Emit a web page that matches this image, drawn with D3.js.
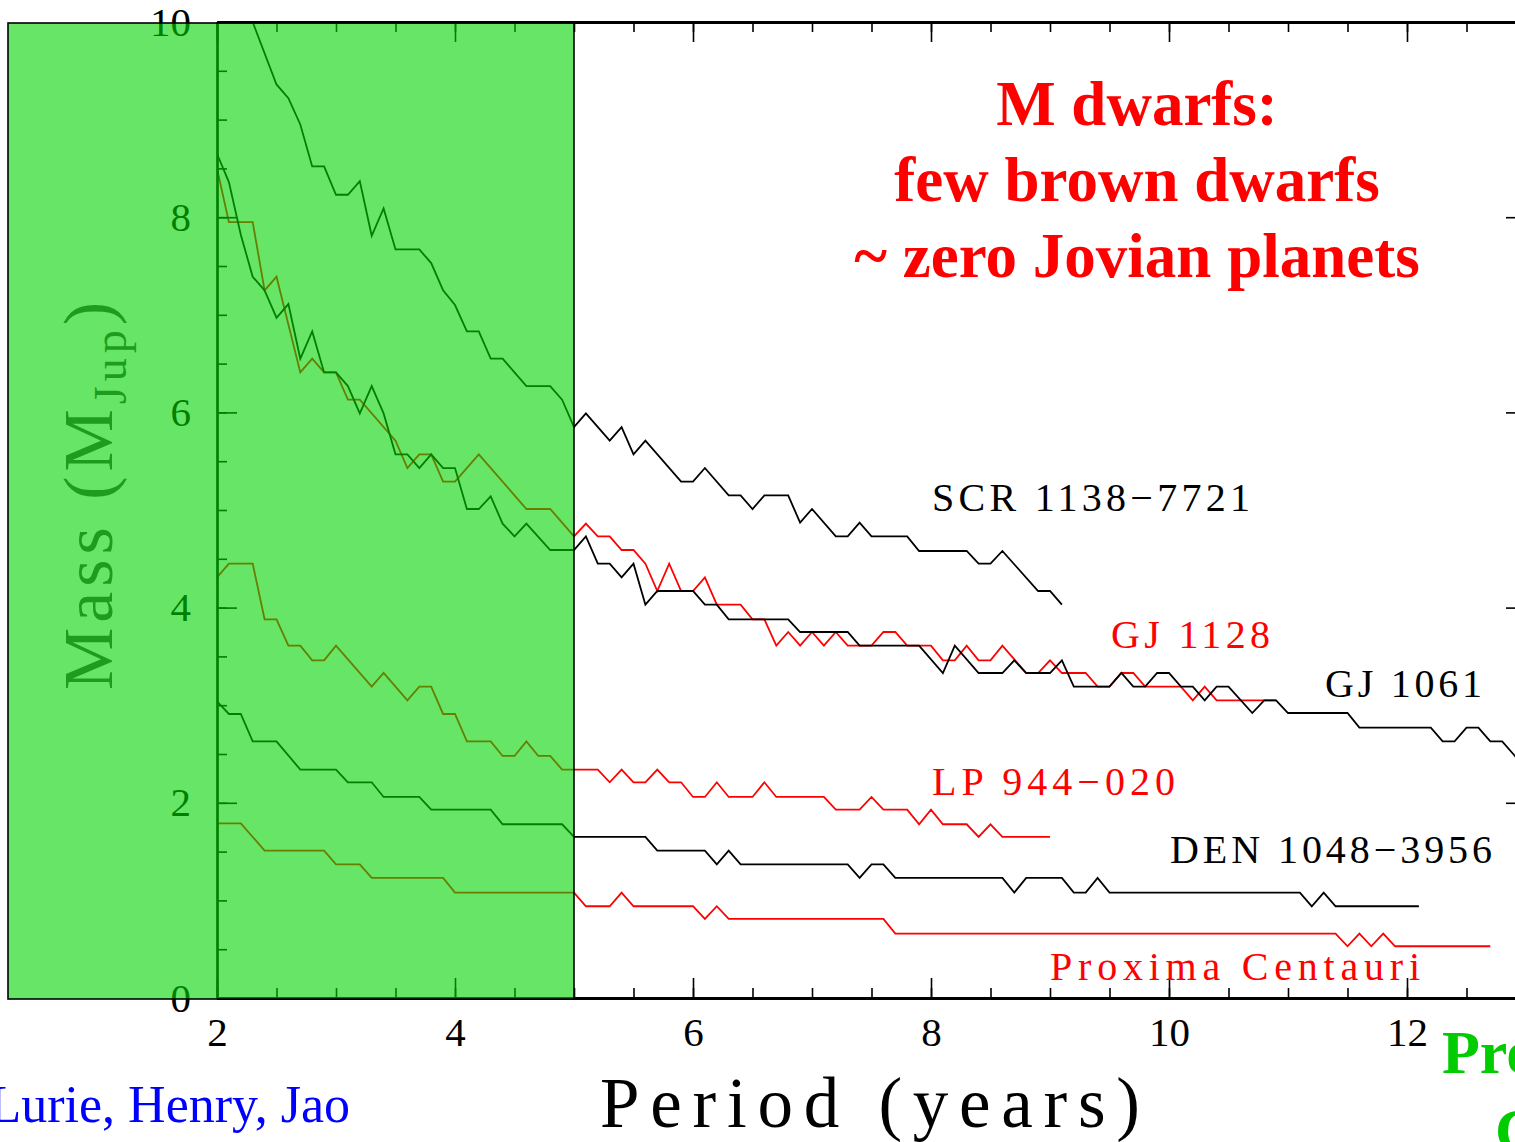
<!DOCTYPE html>
<html>
<head>
<meta charset="utf-8">
<script src="https://cdn.jsdelivr.net/npm/d3@7"></script>
<style>
  html, body { margin: 0; padding: 0; background: #fff; overflow: hidden; }
  svg { display: block; }
  text { font-family: "Liberation Serif", "Times New Roman", serif; }
</style>
</head>
<body>
<svg id="chart" width="1515" height="1142"></svg>
<script>
// Axis domains and tick values
const periodDomain = [2, 13];
const massDomain = [0, 10];
const periodMajorTicks = [2, 4, 6, 8, 10, 12];
const periodMinorTicks = d3.range(2, 13.01, 0.5);
const massMajorTicks = [0, 2, 4, 6, 8, 10];
const massMinorTicks = d3.range(0, 10.01, 0.5);

// Series names, colours and label texts
const seriesNames = ["SCR 1138−7721", "GJ 1128", "GJ 1061", "LP 944−020", "DEN 1048−3956", "Proxima Centauri"];
const seriesColors = ["#000000", "#ff0000", "#000000", "#ff0000", "#000000", "#ff0000"];

// Detection limits: [period (years), mass (M_Jup)]
const scr1138 = [[2.3,10.0],[2.5,9.36],[2.6,9.22],[2.7,8.95],[2.8,8.52],[2.9,8.52],[3.0,8.23],[3.1,8.23],[3.2,8.37],[3.3,7.81],[3.4,8.09],[3.5,7.67],[3.7,7.67],[3.8,7.53],[3.9,7.25],[4.0,7.10],[4.1,6.83],[4.2,6.83],[4.3,6.55],[4.4,6.55],[4.6,6.27],[4.8,6.27],[4.9,6.13],[5.0,5.85],[5.1,5.99],[5.3,5.71],[5.4,5.85],[5.5,5.57],[5.6,5.71],[5.9,5.29],[6.0,5.29],[6.1,5.43],[6.3,5.15],[6.4,5.15],[6.5,5.01],[6.6,5.15],[6.8,5.15],[6.9,4.87],[7.0,5.01],[7.2,4.73],[7.3,4.73],[7.4,4.87],[7.5,4.73],[7.8,4.73],[7.9,4.58],[8.3,4.58],[8.4,4.45],[8.5,4.45],[8.6,4.58],[8.9,4.17],[9.0,4.17],[9.1,4.03]];

const gj1128 = [[2.0,8.50],[2.1,7.95],[2.3,7.95],[2.4,7.25],[2.5,7.39],[2.7,6.41],[2.8,6.55],[2.9,6.41],[3.0,6.41],[3.1,6.13],[3.2,6.13],[3.5,5.71],[3.6,5.43],[3.7,5.57],[3.8,5.57],[3.9,5.29],[4.0,5.29],[4.2,5.57],[4.6,5.01],[4.8,5.01],[5.0,4.73],[5.1,4.86],[5.2,4.73],[5.3,4.73],[5.4,4.59],[5.5,4.59],[5.6,4.45],[5.7,4.17],[5.8,4.45],[5.9,4.17],[6.0,4.17],[6.1,4.31],[6.2,4.03],[6.4,4.03],[6.5,3.88],[6.6,3.88],[6.7,3.61],[6.8,3.75],[6.9,3.61],[7.0,3.75],[7.1,3.61],[7.2,3.75],[7.3,3.61],[7.5,3.61],[7.6,3.75],[7.7,3.75],[7.8,3.61],[8.0,3.61],[8.1,3.46],[8.2,3.46],[8.3,3.61],[8.4,3.46],[8.5,3.46],[8.6,3.61],[8.8,3.33],[8.9,3.33],[9.0,3.46],[9.1,3.33],[9.3,3.33],[9.4,3.19],[9.5,3.19],[9.6,3.33],[9.7,3.33],[9.8,3.19],[10.1,3.19],[10.2,3.05],[10.3,3.19],[10.4,3.05],[10.9,3.05]];

const gj1061 = [[2.0,8.65],[2.1,8.36],[2.2,7.82],[2.3,7.39],[2.4,7.25],[2.5,6.97],[2.6,7.11],[2.7,6.55],[2.8,6.83],[2.9,6.41],[3.0,6.41],[3.1,6.27],[3.2,5.99],[3.3,6.27],[3.4,5.99],[3.5,5.57],[3.6,5.57],[3.7,5.43],[3.8,5.57],[3.9,5.43],[4.0,5.43],[4.1,5.01],[4.2,5.01],[4.3,5.14],[4.4,4.86],[4.5,4.73],[4.6,4.86],[4.8,4.59],[5.0,4.59],[5.1,4.73],[5.2,4.45],[5.3,4.45],[5.4,4.31],[5.5,4.45],[5.6,4.03],[5.7,4.17],[6.0,4.17],[6.1,4.03],[6.2,4.03],[6.3,3.88],[6.8,3.88],[6.9,3.75],[7.3,3.75],[7.4,3.61],[7.9,3.61],[8.1,3.33],[8.2,3.61],[8.4,3.33],[8.6,3.33],[8.7,3.46],[8.8,3.33],[9.0,3.33],[9.1,3.46],[9.2,3.19],[9.5,3.19],[9.6,3.33],[9.7,3.19],[9.8,3.19],[9.9,3.33],[10.0,3.33],[10.1,3.19],[10.2,3.19],[10.3,3.05],[10.4,3.19],[10.5,3.19],[10.7,2.92],[10.8,3.05],[10.9,3.05],[11.0,2.92],[11.5,2.92],[11.6,2.77],[12.2,2.77],[12.3,2.63],[12.4,2.63],[12.5,2.77],[12.6,2.77],[12.7,2.63],[12.8,2.63],[12.9,2.49],[13.0,2.35]];

const lp944 = [[2.0,4.31],[2.1,4.45],[2.3,4.45],[2.4,3.88],[2.5,3.88],[2.6,3.61],[2.7,3.61],[2.8,3.46],[2.9,3.46],[3.0,3.61],[3.3,3.19],[3.4,3.33],[3.6,3.05],[3.7,3.19],[3.8,3.19],[3.9,2.91],[4.0,2.91],[4.1,2.63],[4.3,2.63],[4.4,2.48],[4.5,2.48],[4.6,2.63],[4.7,2.48],[4.8,2.48],[4.9,2.34],[5.0,2.34],[5.2,2.34],[5.3,2.21],[5.4,2.34],[5.5,2.21],[5.6,2.21],[5.7,2.34],[5.8,2.21],[5.9,2.21],[6.0,2.06],[6.1,2.06],[6.2,2.21],[6.3,2.06],[6.5,2.06],[6.6,2.21],[6.7,2.06],[7.1,2.06],[7.2,1.93],[7.4,1.93],[7.5,2.06],[7.6,1.93],[7.8,1.93],[7.9,1.78],[8.0,1.93],[8.1,1.78],[8.3,1.78],[8.4,1.65],[8.5,1.78],[8.6,1.65],[9.0,1.65]];

const den1048 = [[2.0,3.04],[2.1,2.91],[2.2,2.91],[2.3,2.63],[2.5,2.63],[2.7,2.34],[3.0,2.34],[3.1,2.21],[3.3,2.21],[3.4,2.06],[3.7,2.06],[3.8,1.93],[4.3,1.93],[4.4,1.78],[4.9,1.78],[5.0,1.65],[5.6,1.65],[5.7,1.51],[6.1,1.51],[6.2,1.37],[6.3,1.51],[6.4,1.37],[7.3,1.37],[7.4,1.23],[7.5,1.37],[7.6,1.37],[7.7,1.23],[8.6,1.23],[8.7,1.08],[8.8,1.23],[9.1,1.23],[9.2,1.08],[9.3,1.08],[9.4,1.23],[9.5,1.08],[11.1,1.08],[11.2,0.94],[11.3,1.08],[11.4,0.94],[12.1,0.94]];

const proxima = [[2.0,1.79],[2.2,1.79],[2.4,1.51],[2.9,1.51],[3.0,1.37],[3.2,1.37],[3.3,1.23],[3.9,1.23],[4.0,1.08],[5.0,1.08],[5.1,0.94],[5.3,0.94],[5.4,1.08],[5.5,0.94],[6.0,0.94],[6.1,0.81],[6.2,0.94],[6.3,0.81],[7.6,0.81],[7.7,0.66],[11.4,0.66],[11.5,0.53],[11.6,0.66],[11.7,0.53],[11.8,0.66],[11.9,0.53],[12.7,0.53]];

const seriesData = [scr1138, gj1128, gj1061, lp944, den1048, proxima];

// Annotation texts
const titleLines = ["M dwarfs:", "few brown dwarfs", "~ zero Jovian planets"];
const creditText = "Lurie, Henry, Jao";
const sideNoteLines = ["Proxima", "Cen"];

// ---- layout ----
const svg = d3.select("#chart");
const plotLeft = 217, plotRight = 1526, plotTop = 22, plotBottom = 998;

const x = d3.scaleLinear().domain(periodDomain).range([plotLeft, plotRight]);
const y = d3.scaleLinear().domain(massDomain).range([plotBottom, plotTop]);

svg.append("defs").append("clipPath").attr("id", "plotClip")
  .append("rect").attr("x", plotLeft).attr("y", plotTop)
  .attr("width", plotRight - plotLeft).attr("height", plotBottom - plotTop);

// Detection-limit curves
const line = d3.line().x(d => x(d[0])).y(d => y(d[1]));
svg.append("g").attr("clip-path", "url(#plotClip)")
  .selectAll("path").data(seriesData).join("path")
  .attr("d", line)
  .attr("fill", "none")
  .attr("stroke", (d, i) => seriesColors[i])
  .attr("stroke-width", 1.8)
  .attr("stroke-linejoin", "miter");

// Axes: major and minor ticks on all four sides, pointing inward
function styleAxis(g, width) {
  g.selectAll(".domain").attr("stroke", "#000").attr("stroke-width", width);
  g.selectAll(".tick line").attr("stroke", "#000").attr("stroke-width", 1.6);
  g.selectAll("text").attr("fill", "#000")
    .style("font-family", '"Liberation Serif", serif').style("font-size", "41px");
}

// bottom
svg.append("g").attr("transform", `translate(0,${plotBottom})`)
  .call(d3.axisBottom(x).tickValues(periodMinorTicks).tickSize(-10).tickSizeOuter(0).tickFormat(""))
  .call(g => styleAxis(g, 3));
svg.append("g").attr("transform", `translate(0,${plotBottom})`)
  .call(d3.axisBottom(x).tickValues(periodMajorTicks).tickSize(-20).tickSizeOuter(0).tickPadding(19).tickFormat(d3.format("d")))
  .call(g => styleAxis(g, 3));
// top
svg.append("g").attr("transform", `translate(0,${plotTop})`)
  .call(d3.axisTop(x).tickValues(periodMinorTicks).tickSize(-10).tickSizeOuter(0).tickFormat(""))
  .call(g => styleAxis(g, 3));
svg.append("g").attr("transform", `translate(0,${plotTop})`)
  .call(d3.axisTop(x).tickValues(periodMajorTicks).tickSize(-20).tickSizeOuter(0).tickFormat(""))
  .call(g => styleAxis(g, 3));
// left
svg.append("g").attr("transform", `translate(${plotLeft},0)`)
  .call(d3.axisLeft(y).tickValues(massMinorTicks).tickSize(-10).tickSizeOuter(0).tickFormat(""))
  .call(g => styleAxis(g, 2.2));
svg.append("g").attr("transform", `translate(${plotLeft},0)`)
  .call(d3.axisLeft(y).tickValues(massMajorTicks).tickSize(-20).tickSizeOuter(0).tickPadding(26).tickFormat(d3.format("d")))
  .call(g => styleAxis(g, 2.2));
// right
svg.append("g").attr("transform", `translate(${plotRight},0)`)
  .call(d3.axisRight(y).tickValues(massMinorTicks).tickSize(-10).tickSizeOuter(0).tickFormat(""))
  .call(g => styleAxis(g, 3));
svg.append("g").attr("transform", `translate(${plotRight},0)`)
  .call(d3.axisRight(y).tickValues(massMajorTicks).tickSize(-20).tickSizeOuter(0).tickFormat(""))
  .call(g => styleAxis(g, 3));

// Axis titles
svg.append("text")
  .attr("x", 600).attr("y", 1127)
  .attr("textLength", 540).attr("lengthAdjust", "spacing")
  .style("font-size", "71px").attr("fill", "#000")
  .text("Period (years)");

const massTitle = svg.append("text")
  .attr("transform", "translate(112,690) rotate(-90)")
  .style("font-size", "70px").attr("fill", "#4a4a4a")
  .style("letter-spacing", "5px");
massTitle.append("tspan").text("Mass (M");
massTitle.append("tspan").attr("dy", 14).style("font-size", "46px").text("Jup");
massTitle.append("tspan").attr("dy", -14).text(")");

// Curve labels
const labelPos = [[932, 511, 318], [1111, 648, 159], [1325, 697, 157], [932, 795, 243], [1170, 863, 322], [1050, 980, 370]];
svg.append("g").selectAll("text").data(seriesNames).join("text")
  .attr("x", (d, i) => labelPos[i][0])
  .attr("y", (d, i) => labelPos[i][1])
  .attr("textLength", (d, i) => labelPos[i][2])
  .attr("lengthAdjust", "spacing")
  .attr("fill", (d, i) => seriesColors[i])
  .style("font-size", "40px")
  .text(d => d);

// Title block
svg.append("g").selectAll("text").data(titleLines).join("text")
  .attr("x", 1137)
  .attr("y", (d, i) => 125 + i * 76)
  .attr("text-anchor", "middle")
  .attr("fill", "#ff0000")
  .style("font-size", "63px").style("font-weight", "bold")
  .text(d => d);

// Shaded short-period region (semi-transparent green panel)
svg.append("rect")
  .attr("x", 8).attr("y", 23)
  .attr("width", x(5) - 8).attr("height", plotBottom + 1 - 23)
  .attr("fill", "rgb(0,212,0)").attr("fill-opacity", 0.6)
  .attr("stroke", "#000").attr("stroke-width", 1.6);

// Credit line and side note
svg.append("text")
  .attr("x", 350).attr("y", 1122)
  .attr("text-anchor", "end")
  .attr("fill", "#0000ff")
  .style("font-size", "52px")
  .text(creditText);

svg.append("g").selectAll("text").data(sideNoteLines).join("text")
  .attr("x", (d, i) => i === 0 ? 1442 : 1495)
  .attr("y", (d, i) => 1073 + i * 78)
  .attr("fill", "#00cc00")
  .style("font-size", "62px").style("font-weight", "bold")
  .text(d => d);
</script>
</body>
</html>
